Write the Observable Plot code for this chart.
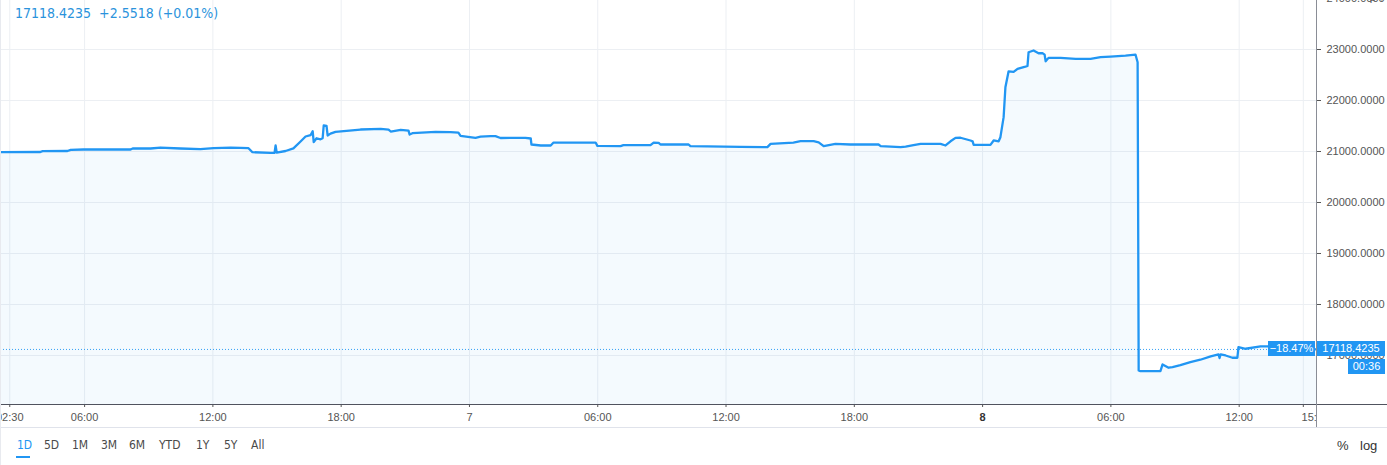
<!DOCTYPE html>
<html><head><meta charset="utf-8">
<script src="https://cdn.jsdelivr.net/npm/d3@7"></script>
<script src="https://cdn.jsdelivr.net/npm/@observablehq/plot@0.6"></script>
<style>
html,body{margin:0;padding:0;background:#fff;overflow:hidden;}
#wrap{position:relative;width:1387px;height:465px;overflow:hidden;font-family:"Liberation Sans",Arial,sans-serif;box-sizing:border-box;}
#chart{position:absolute;left:0;top:-10px;}
.abs{position:absolute;}
.box{position:absolute;background:#2196f3;color:#fff;font-size:11px;line-height:15px;height:15px;text-align:center;white-space:nowrap;}
.btn{position:absolute;top:438px;font-size:12px;color:#4a4a4a;font-family:"DejaVu Sans Condensed","Liberation Sans Narrow","Liberation Sans",sans-serif;}
</style></head><body>
<div id="wrap"><div id="chart"></div></div>
<script>
// ---- data ----
const times = [
"2022-11-06 02:04","2022-11-06 03:56","2022-11-06 04:02","2022-11-06 05:12","2022-11-06 05:21","2022-11-06 05:57",
"2022-11-06 08:09","2022-11-06 08:15","2022-11-06 09:05","2022-11-06 09:33","2022-11-06 10:29","2022-11-06 11:25",
"2022-11-06 12:02","2022-11-06 12:50","2022-11-06 13:18","2022-11-06 13:40","2022-11-06 13:51","2022-11-06 14:42",
"2022-11-06 14:53","2022-11-06 14:56","2022-11-06 14:59","2022-11-06 15:24","2022-11-06 15:46","2022-11-06 16:06",
"2022-11-06 16:20","2022-11-06 16:34","2022-11-06 16:40","2022-11-06 16:43","2022-11-06 16:51","2022-11-06 17:02",
"2022-11-06 17:08","2022-11-06 17:11","2022-11-06 17:19","2022-11-06 17:22","2022-11-06 17:30","2022-11-06 17:44",
"2022-11-06 18:54","2022-11-06 19:51","2022-11-06 20:13","2022-11-06 20:19","2022-11-06 20:47","2022-11-06 21:09",
"2022-11-06 21:12","2022-11-06 21:20","2022-11-06 22:25","2022-11-06 23:07","2022-11-06 23:29","2022-11-06 23:35",
"2022-11-07 00:17","2022-11-07 00:31","2022-11-07 00:59","2022-11-07 01:13","2022-11-07 01:27","2022-11-07 02:37",
"2022-11-07 02:52","2022-11-07 02:54","2022-11-07 03:20","2022-11-07 03:48","2022-11-07 03:56","2022-11-07 05:54",
"2022-11-07 05:59","2022-11-07 07:04","2022-11-07 07:12","2022-11-07 08:28","2022-11-07 08:37","2022-11-07 08:51",
"2022-11-07 08:56","2022-11-07 10:15","2022-11-07 10:20","2022-11-07 12:41","2022-11-07 13:56","2022-11-07 14:05",
"2022-11-07 15:09","2022-11-07 15:29","2022-11-07 16:06","2022-11-07 16:20","2022-11-07 16:34","2022-11-07 17:07",
"2022-11-07 17:49","2022-11-07 19:08","2022-11-07 19:14","2022-11-07 20:10","2022-11-07 20:24","2022-11-07 20:46",
"2022-11-07 21:06","2022-11-07 22:02","2022-11-07 22:16","2022-11-07 22:30","2022-11-07 22:44","2022-11-07 22:58",
"2022-11-07 23:26","2022-11-07 23:32","2022-11-07 23:35","2022-11-08 00:22","2022-11-08 00:31","2022-11-08 00:45",
"2022-11-08 00:50","2022-11-08 00:59","2022-11-08 01:04","2022-11-08 01:13","2022-11-08 01:27","2022-11-08 01:38",
"2022-11-08 02:00","2022-11-08 02:06","2022-11-08 02:09","2022-11-08 02:23","2022-11-08 02:37","2022-11-08 02:48",
"2022-11-08 02:54","2022-11-08 02:57","2022-11-08 03:05","2022-11-08 03:39","2022-11-08 04:21","2022-11-08 05:03",
"2022-11-08 05:31","2022-11-08 05:59","2022-11-08 06:41","2022-11-08 07:09","2022-11-08 07:15","2022-11-08 07:18",
"2022-11-08 07:23","2022-11-08 08:19","2022-11-08 08:25","2022-11-08 08:42","2022-11-08 08:53","2022-11-08 09:15",
"2022-11-08 09:43","2022-11-08 10:11","2022-11-08 10:40","2022-11-08 11:02","2022-11-08 11:05","2022-11-08 11:08",
"2022-11-08 11:22","2022-11-08 11:41","2022-11-08 11:55","2022-11-08 11:58","2022-11-08 12:18","2022-11-08 13:00",
"2022-11-08 13:22","2022-11-08 14:24","2022-11-08 15:37"
];
const prices = [
20986,20990,21006,21010,21033,21039,
21039,21059,21059,21078,21059,21045,
21065,21078,21070,21065,20986,20974,
20974,21118,20980,21010,21060,21196,
21294,21320,21398,21183,21260,21240,
21260,21510,21500,21314,21350,21386,
21431,21444,21430,21392,21425,21410,
21333,21359,21386,21380,21370,21307,
21268,21290,21300,21300,21265,21268,
21255,21137,21118,21118,21176,21176,
21111,21105,21124,21124,21176,21170,
21137,21137,21105,21090,21085,21150,
21176,21202,21202,21180,21105,21150,
21137,21137,21105,21085,21095,21125,
21150,21150,21118,21200,21268,21270,
21216,21200,21131,21131,21216,21200,
21281,21673,22260,22573,22560,22620,
22666,22680,22946,22980,22927,22930,
22900,22770,22836,22836,22816,22816,
22849,22862,22882,22901,22751,16708,
16694,16694,16825,16760,16770,16810,
16870,16917,16982,17021,16950,17021,
17000,16956,16956,17165,17132,17177,
17180,17150,17118
];
const xTickTimes = ["2022-11-06 02:30","2022-11-06 06:00","2022-11-06 12:00","2022-11-06 18:00","2022-11-07 00:00",
"2022-11-07 06:00","2022-11-07 12:00","2022-11-07 18:00","2022-11-08 00:00","2022-11-08 06:00","2022-11-08 12:00","2022-11-08 15:00"];
const yTicks = [17000,18000,19000,20000,21000,22000,23000,24000];
const xDomainTimes = ["2022-11-06 02:04","2022-11-08 15:37"];
const yDomain = [16039, 23961];
const lastPrice = 17118.4235;
const headerText = "17118.4235\u00a0\u00a0+2.5518 (+0.01%)";
const pctLabel = "\u221218.47%";
const countdown = "00:36";
const ranges = ["1D","5D","1M","3M","6M","YTD","1Y","5Y","All"];
const rangeX = [17,44,72,101,129,159,196,224,251];

// ---- build ----
const parse = d3.timeParse("%Y-%m-%d %H:%M");
const data = times.map((t,i)=>({t:parse(t), p:prices[i]}));
const xTicks = xTickTimes.map(parse);
const fmtHM = d3.timeFormat("%H:%M");
const blue = "#2196f3";

const chart = Plot.plot({
  width: 1387, height: 437,
  marginLeft: 0, marginRight: 71, marginTop: 10, marginBottom: 23,
  style: {fontFamily: '"Liberation Sans", Arial, sans-serif', fontSize: "11px", background: "transparent"},
  x: {type: "time", domain: xDomainTimes.map(parse)},
  y: {domain: yDomain},
  marks: [
    Plot.gridX(xTicks, {stroke: "#eceff3", strokeOpacity: 1}),
    Plot.gridY(yTicks.filter(v => v < yDomain[1]), {stroke: "#eceff3", strokeOpacity: 1}),
    Plot.areaY(data, {x: "t", y1: yDomain[0], y2: "p", fill: blue, fillOpacity: 0.05}),
    Plot.ruleY([lastPrice], {stroke: blue, strokeWidth: 1, strokeDasharray: "1,2", strokeOpacity: 0.9}),
    Plot.lineY(data, {x: "t", y: "p", stroke: blue, strokeWidth: 2.3}),
    Plot.axisX({ticks: xTicks, tickSize: 3, tickPadding: 6, stroke: "#555", fill: "#555",
      tickFormat: d => (d.getHours() === 0 && d.getMinutes() === 0) ? String(d.getDate()) : fmtHM(d)}),
    Plot.axisY({anchor: "right", ticks: yTicks, tickSize: 4, tickPadding: 6, stroke: "#555", fill: "#555",
      tickFormat: d => d.toFixed(4)})
  ]
});
document.getElementById("chart").appendChild(chart);
d3.select(chart).selectAll("text").filter(function(){ return this.textContent === "8"; }).attr("font-weight", "bold").attr("fill", "#333");
// last time label sits against the price scale, as in the reference
d3.select(chart).selectAll("text").filter(function(){ return this.textContent === "15:00"; }).attr("dx", 12);

const wrap = document.getElementById("wrap");
const xs = chart.scale("x"), ys = chart.scale("y");
const plotRight = Math.round(xs.apply(parse(xDomainTimes[1])));
const plotBottom = Math.round(ys.apply(yDomain[0])) - 10;
const yLast = ys.apply(lastPrice) - 10;

function add(html, css, cls) {
  const d = document.createElement("div");
  d.className = cls || "abs";
  d.innerHTML = html;
  Object.assign(d.style, css);
  wrap.appendChild(d);
  return d;
}
// mask to clip last x label under the price scale
add("", {left: (plotRight + 1) + "px", top: (plotBottom + 1) + "px", width: "80px", height: "22px", background: "#fff"});
// axis lines
add("", {left: "0px", top: plotBottom + "px", width: "1387px", height: "1px", background: "#50535e"});
add("", {left: plotRight + "px", top: "0px", width: "1px", height: (plotBottom + 23) + "px", background: "#8a8d96"});
// separator
add("", {left: "0px", top: (plotBottom + 23) + "px", width: "1387px", height: "1px", background: "#e0e3eb"});
add("", {left: "0px", top: "0px", width: "1px", height: "465px", background: "#e8eaef"});
// header
add(headerText, {left: "15px", top: "5px", fontSize: "14px", color: "#2b93dc", whiteSpace: "nowrap", fontFamily: '"DejaVu Sans Condensed","Liberation Sans",sans-serif'});
// price labels
add(pctLabel, {left: (plotRight - 48) + "px", top: (yLast - 8) + "px", width: "47px"}, "box");
add("17118.4235", {left: (plotRight + 1) + "px", top: (yLast - 8) + "px", width: "68px"}, "box");
add(countdown, {left: (plotRight + 32) + "px", top: (yLast + 10) + "px", width: "37px"}, "box");
// range buttons
ranges.forEach((r, i) => {
  const b = add(r, {left: rangeX[i] + "px"}, "btn");
  if (i === 0) b.style.color = blue;
});
add("", {left: "16px", top: "456px", width: "14px", height: "2px", background: blue});
add("%", {left: "1337px", top: "438px", fontSize: "13px", color: "#333"});
add("log", {left: "1360px", top: "438px", fontSize: "13px", color: "#333"});
</script></body></html>
